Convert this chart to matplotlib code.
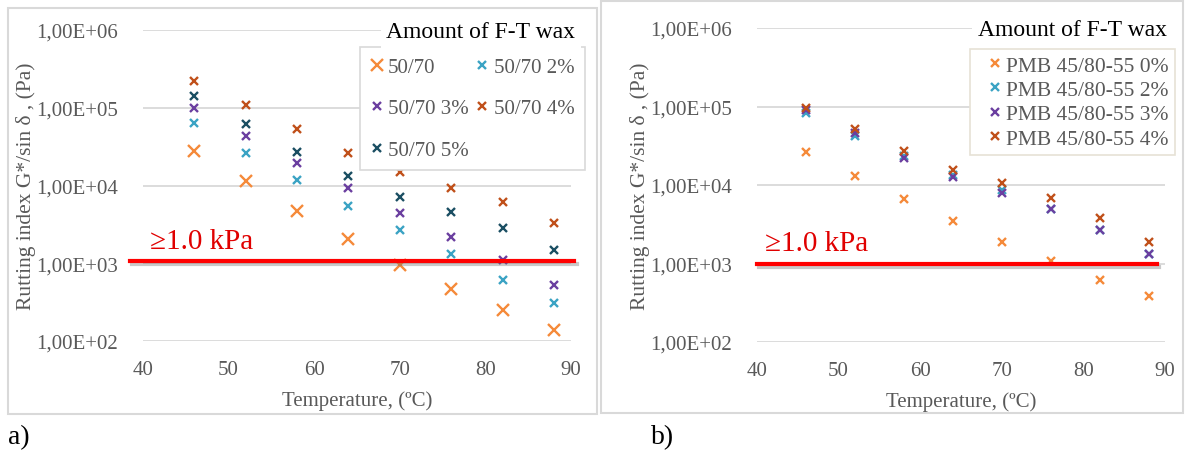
import matplotlib
matplotlib.use('Agg')
import matplotlib.pyplot as plt
import matplotlib.patheffects as pe
from matplotlib.patches import Rectangle

plt.rcParams['font.family'] = ['Liberation Serif', 'DejaVu Serif']

# data -----------------------------------------------------------
temps = [46, 52, 58, 64, 70, 76, 82, 88]

a_labels = ['50/70', '50/70 2%', '50/70 3%', '50/70 4%', '50/70 5%']
a_0 = [2.76e4, 1.14e4, 4.7e3, 2.07e3, 9.4e2, 4.7e2, 2.48e2, 1.37e2]
a_2 = [6.3e4, 2.6e4, 1.16e4, 5.4e3, 2.64e3, 1.3e3, 6.1e2, 3.1e2]
a_3 = [1.0e5, 4.35e4, 1.95e4, 9.2e3, 4.4e3, 2.19e3, 1.09e3, 5.2e2]
a_4 = [2.2e5, 1.09e5, 5.4e4, 2.6e4, 1.48e4, 9.2e3, 6.2e3, 3.3e3]
a_5 = [1.4e5, 6.1e4, 2.7e4, 1.33e4, 7.2e3, 4.5e3, 2.8e3, 1.48e3]

b_labels = ['PMB 45/80-55 0%', 'PMB 45/80-55 2%', 'PMB 45/80-55 3%', 'PMB 45/80-55 4%']
b_0 = [2.6e4, 1.31e4, 6.7e3, 3.5e3, 1.88e3, 1.07e3, 6.1e2, 3.9e2]
b_2 = [8.3e4, 4.2e4, 2.35e4, 1.35e4, 8.7e3, 4.9e3, 2.7e3, 1.33e3]
b_3 = [9.0e4, 4.6e4, 2.18e4, 1.25e4, 8.0e3, 4.9e3, 2.68e3, 1.31e3]
b_4 = [9.5e4, 5.1e4, 2.73e4, 1.56e4, 1.05e4, 6.8e3, 3.8e3, 1.87e3]

yticks = [1e2, 1e3, 1e4, 1e5, 1e6]
ytick_labels = ['1,00E+02', '1,00E+03', '1,00E+04', '1,00E+05', '1,00E+06']
xticks = [40, 50, 60, 70, 80, 90]
limit_a = 1.08e3
limit_b = 1.0e3

c_orange = '#F58A3A'
c_cyan = '#3BA3C4'
c_purple = '#6B3FA0'
c_brown = '#C0501A'
c_teal = '#1B4F63'
grey = '#595959'

W, H = 1189, 456
fig = plt.figure(figsize=(W / 100, H / 100), dpi=100)

# panel frames
fig.patches.append(Rectangle((8 / W, 1 - 415 / H), 589 / W, 406 / H, transform=fig.transFigure,
                             fill=False, ec='#d9d9d9', lw=1.5))
fig.patches.append(Rectangle((601 / W, 1 - 414 / H), 582 / W, 412 / H, transform=fig.transFigure,
                             fill=False, ec='#d9d9d9', lw=1.5))

ax1 = fig.add_axes([143 / W, 1 - 342 / H, 428 / W, 311 / H])
ax2 = fig.add_axes([757 / W, 1 - 343 / H, 408 / W, 314 / H])


def style(ax):
    ax.set_yscale('log')
    ax.set_ylim(1e2, 1e6)
    ax.set_xlim(40, 90)
    ax.set_yticks(yticks)
    ax.set_yticklabels(ytick_labels)
    ax.minorticks_off()
    ax.set_xticks(xticks)
    ax.tick_params(length=0, labelsize=15, colors=grey)
    ax.tick_params(axis='y', pad=18)
    ax.tick_params(axis='x', pad=14)
    for s in ax.spines.values():
        s.set_visible(False)
    ax.grid(axis='y', color='#d9d9d9', lw=1.3)
    ax.set_axisbelow(True)
    ax.patch.set_alpha(0)
    ax.set_xlabel('Temperature, (ºC)', fontsize=15, color=grey, labelpad=8)
    ax.set_ylabel('Rutting index G*/sin δ , (Pa)', fontsize=15.5, color=grey, labelpad=0)


style(ax1)
style(ax2)

# panel a
mk = dict(ls='none', marker='x', mew=1.7)
h = []
h += ax1.plot(temps, a_0, color=c_orange, ms=9, label=a_labels[0], **mk)
h += ax1.plot(temps, a_2, color=c_cyan, ms=6, label=a_labels[1], **mk)
h += ax1.plot(temps, a_3, color=c_purple, ms=6, label=a_labels[2], **mk)
h += ax1.plot(temps, a_4, color=c_brown, ms=6, label=a_labels[3], **mk)
h += ax1.plot(temps, a_5, color=c_teal, ms=6, label=a_labels[4], **mk)

shadow = [pe.SimpleLineShadow(offset=(1.5, -2.5), shadow_color='#666666', alpha=0.35), pe.Normal()]
ax1.plot([38.5, 90.4], [limit_a, limit_a], color='#ff0000', lw=3, clip_on=False,
         path_effects=shadow, zorder=4)
ax1.text(40.8, 1.55e3, '≥1.0 kPa', color='#e00000', fontsize=21, zorder=5)

order = [0, 2, 4, 1, 3]
leg1 = ax1.legend([h[i] for i in order], [a_labels[i] for i in order], ncol=2,
                  loc='upper left', bbox_to_anchor=(360 / W, 1 - 48 / H), bbox_transform=fig.transFigure,
                  fontsize=15, labelcolor=grey, frameon=True, fancybox=False, edgecolor='#d9d9d9',
                  framealpha=1, borderaxespad=0, borderpad=0.5, labelspacing=1.05,
                  handlelength=0.6, handletextpad=0.25, columnspacing=0.35)
leg1.get_frame().set_linewidth(1.2)
leg1.set_zorder(6)
fig.text(481 / W, 1 - 33 / H, 'Amount of F-T wax', fontsize=17, ha='center', va='center',
         color='black', bbox=dict(fc='white', ec='none', pad=4), zorder=7)

# panel b
g = []
g += ax2.plot(temps, b_0, color=c_orange, ms=6, label=b_labels[0], **mk)
g += ax2.plot(temps, b_2, color=c_cyan, ms=6, label=b_labels[1], **mk)
g += ax2.plot(temps, b_3, color=c_purple, ms=6, label=b_labels[2], **mk)
g += ax2.plot(temps, b_4, color=c_brown, ms=6, label=b_labels[3], **mk)

ax2.plot([40, 89], [limit_b, limit_b], color='#ff0000', lw=3, clip_on=False,
         path_effects=shadow, zorder=4)
ax2.text(41.0, 1.48e3, '≥1.0 kPa', color='#e00000', fontsize=21, zorder=5)

leg2 = ax2.legend(g, b_labels, loc='upper left', bbox_to_anchor=(970 / W, 1 - 50 / H),
                  bbox_transform=fig.transFigure, fontsize=15.5, labelcolor=grey, frameon=True,
                  fancybox=False, edgecolor='#e6e2d6', framealpha=1, borderaxespad=0,
                  borderpad=0.3, labelspacing=0.2, handlelength=1.7, handletextpad=-0.35)
leg2.get_frame().set_linewidth(1.2)
leg2.set_zorder(6)
fig.text(1072 / W, 1 - 30 / H, 'Amount of F-T wax', fontsize=17, ha='center', va='center',
         color='black', bbox=dict(fc='white', ec='none', pad=4), zorder=7)

fig.text(8 / W, 1 - 438 / H, 'a)', fontsize=20, va='center', ha='left')
fig.text(651 / W, 1 - 438 / H, 'b)', fontsize=20, va='center', ha='left')

fig.savefig('out.png', dpi=100)
